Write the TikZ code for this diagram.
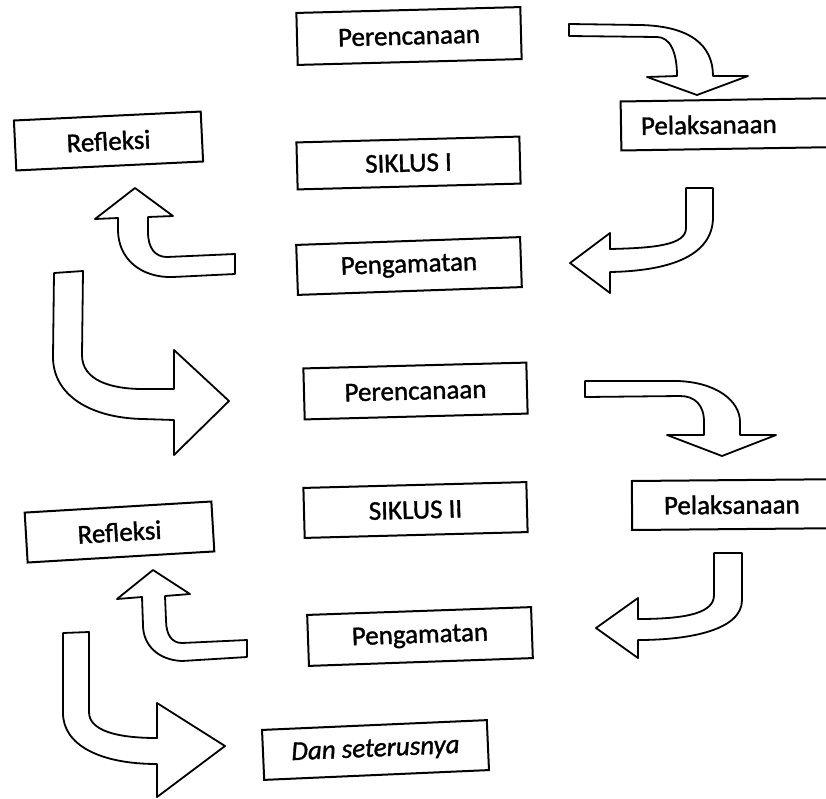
\documentclass[tikz,border=0pt]{standalone}
\usepackage{fontspec}
\setmainfont{Carlito}
\newfontfamily\scanfont[FakeBold=1.3]{Carlito}
\tikzset{
  box/.style={draw, line width=2pt, inner sep=0pt, font=\scanfont\fontsize{27}{32}\selectfont},
  sidebox/.style={box, anchor=west, align=left, text width=200pt, minimum height=49pt},
  barrow/.style={draw, fill=white, line width=1.8pt, line join=round}
}
\begin{document}
\begin{tikzpicture}[x=1pt,y=-1pt]
\useasboundingbox (0,0) rectangle (826,798);
\clip (0,0) rectangle (826,798);
% boxes
\node[box, minimum width=224pt, minimum height=52pt, rotate=1.5] (per1) at (409,36) {Perencanaan};
\node[sidebox, inner xsep=20pt, rotate=0.9] (pel1) at (620,126) {Pelaksanaan};
\node[box, minimum width=187pt, minimum height=50pt, rotate=2.75] (ref1) at (108.5,141) {Refleksi};
\node[box, minimum width=223pt, minimum height=47pt, rotate=1.5] (sik1) at (408.5,163) {SIKLUS I};
\node[box, minimum width=224pt, minimum height=50pt, rotate=2] (pen1) at (409,266) {Pengamatan};
\node[box, minimum width=223pt, minimum height=51pt, rotate=1.5] (per2) at (415.5,391) {Perencanaan};
\node[box, minimum width=223pt, minimum height=50pt, rotate=1.5] (sik2) at (415.5,510) {SIKLUS II};
\node[sidebox, inner xsep=32pt, rotate=0.5] (pel2) at (631,505.5) {Pelaksanaan};
\node[box, minimum width=187pt, minimum height=50pt, rotate=3.4] (ref2) at (119.5,532) {Refleksi};
\node[box, minimum width=224pt, minimum height=51pt, rotate=2] (pen2) at (420,636.5) {Pengamatan};
\node[box, minimum width=225pt, minimum height=50pt, rotate=2.5, font=\scanfont\fontsize{27}{32}\selectfont\itshape] (dan) at (375.5,750) {Dan seterusnya};
% block arrows
% Perencanaan I -> Pelaksanaan I
\draw[barrow] (569,24) -- (640,25) .. controls (690,26) and (713,45) .. (713,76)
  -- (748,76) -- (697,95) -- (647,77) -- (677,76)
  .. controls (677,52) and (670,37) .. (657,37) -- (569,36) -- cycle;
% Pelaksanaan I -> Pengamatan I
\draw[barrow] (686,188) -- (713,188) -- (713,217) .. controls (713,258) and (665,271) .. (610,272)
  -- (610,293) -- (570,263) -- (610,233) -- (610,249)
  .. controls (655,248) and (686,245) .. (686,228) -- cycle;
% Pengamatan I -> Refleksi I
\draw[barrow] (235,254) -- (235,274) -- (173,277) .. controls (140,278) and (118,258) .. (118,230)
  -- (118,218) -- (95,219) -- (135,188) -- (173,216) -- (148,217) -- (148,232)
  .. controls (148,248) and (155,257) .. (167,257) -- cycle;
% Refleksi I -> Perencanaan II
\draw[barrow] (54,273) -- (83,271) -- (82,355) .. controls (82,380) and (110,389) .. (143,389)
  -- (174,389) -- (174,350) -- (229,401) -- (174,455) -- (174,420) -- (143,419)
  .. controls (90,418) and (53,395) .. (53,357) -- cycle;
% Perencanaan II -> Pelaksanaan II
\draw[barrow] (585,381) -- (677,381) .. controls (715,382) and (740,400) .. (740,422)
  -- (740,435) -- (776,435) -- (722,456) -- (667,435) -- (704,435) -- (704,422)
  .. controls (704,405) and (695,396) .. (680,396) -- (585,397) -- cycle;
% Pelaksanaan II -> Pengamatan II
\draw[barrow] (714,553) -- (742,553) -- (742,600) .. controls (742,630) and (690,640) .. (638,640)
  -- (638,658) -- (596,628) -- (638,598) -- (638,619)
  .. controls (690,619) and (714,612) .. (714,595) -- cycle;
% Pengamatan II -> Refleksi II
\draw[barrow] (247,640) -- (247,657) -- (182,661) .. controls (158,660) and (143,645) .. (143,625)
  -- (142,597) -- (117,599) -- (153,570) -- (190,594) -- (165,596) -- (166,620)
  .. controls (166,635) and (172,643) .. (182,643) -- cycle;
% Refleksi II -> Dan seterusnya
\draw[barrow] (63,633) -- (89,632) -- (89,712) .. controls (89,730) and (115,738) .. (157,738)
  -- (157,703) -- (225,746) -- (157,797) -- (157,764)
  .. controls (100,764) and (63,745) .. (63,713) -- cycle;
\end{tikzpicture}
\end{document}
